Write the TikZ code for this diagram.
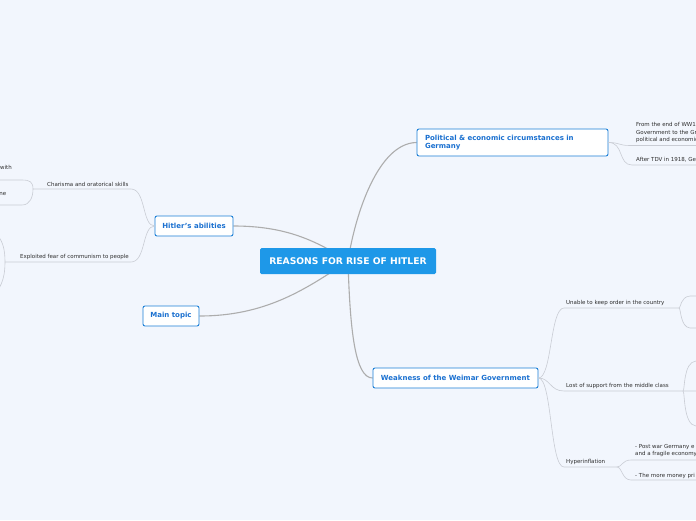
\documentclass[tikz,border=0pt]{standalone}
\usepackage{fontspec}
\setmainfont{DejaVu Sans}
\usepackage{xcolor}
\usepackage{tikz}

\definecolor{paper}{HTML}{F2F6FD}
\definecolor{mainblue}{HTML}{1E98E8}
\definecolor{topicblue}{HTML}{1C7FD6}
\definecolor{topictext}{HTML}{1A70D0}
\definecolor{linkgray}{HTML}{ADADAD}
\definecolor{twiggray}{HTML}{C9CCD4}
\definecolor{subtext}{HTML}{2E2E2E}

\pgfdeclarelayer{back}
\pgfsetlayers{back,main}

\begin{document}
\begin{tikzpicture}[
    x=1pt,y=-1pt,
    central/.style={rectangle,fill=mainblue,text=white,rounded corners=1.5pt,minimum width=176pt,minimum height=26pt,font=\fontsize{9.2}{11}\selectfont\bfseries},
    topic/.style={rectangle,draw=topicblue,fill=white,line width=0.9pt,rounded corners=2pt,text=topictext,minimum height=20pt,align=left,font=\fontsize{7}{8.5}\selectfont\bfseries},
    subtopic/.style={anchor=base west,inner sep=0pt,text=subtext,align=left,font=\fontsize{5.5}{7.2}\selectfont},
    link/.style={draw=linkgray,line width=1.1pt},
    twig/.style={draw=twiggray,line width=0.6pt}
]
\begin{pgfonlayer}{back}
\fill[paper] (0,0) rectangle (696,520);
\end{pgfonlayer}
\useasboundingbox (0,0) rectangle (696,520);
\clip (0,0) rectangle (696,520);

\node[central] (root) at (348,261) {REASONS FOR RISE OF HITLER};
\node[topic,text width=175pt,inner xsep=8pt,minimum height=27pt] (circum) at (512.5,142.5) {Political \& economic circumstances in\\Germany};
\node[topic,minimum width=78pt] (abilities) at (194,226) {Hitler's abilities};
\node[topic,minimum width=56pt] (maintopic) at (171,316) {Main topic};
\node[topic,minimum width=165pt] (weimar) at (455.5,378) {Weakness of the Weimar Government};

% circumstances
\node[subtopic,anchor=north west] (ww1) at (636,122.5) {From the end of WW1\\Government to the Gr\\political and economic};
\node[subtopic] (tdv) at (636,161.5) {After TDV in 1918, Ge};
% abilities
\node[subtopic] (charisma) at (47,186) {Charisma and oratorical skills};
\node[subtopic,anchor=base east] (withtext) at (12,169) {with};
\node[subtopic,anchor=base east] (netext) at (6.5,195) {ne};
\node[subtopic] (fear) at (20,258) {Exploited fear of communism to people};
% weimar
\node[subtopic] (order) at (566,304) {Unable to keep order in the country};
\node[subtopic] (middle) at (566,387) {Lost of support from the middle class};
\node[subtopic] (hyper) at (566,463) {Hyperinflation};
\node[subtopic,anchor=north west] (postwar) at (635,444.5) {- Post war Germany e\\and a fragile economy};
\node[subtopic] (money) at (635,477) {- The more money pri};

\begin{pgfonlayer}{back}
\draw[link] (root.center) .. controls (355,215) and (378,143) .. (circum.west);
\draw[link] (root.center) .. controls (350,330) and (355,378) .. (weimar.west);
\draw[link] (abilities.east) .. controls (285,226) and (315,240) .. (root.center);
\draw[link] (maintopic.east) .. controls (265,316) and (305,290) .. (root.center);
\end{pgfonlayer}

\draw[twig] (circum.east) .. controls (620,142.5) and (618,145.5) .. (630,145.5) -- (696,145.5);
\draw[twig] (circum.east) .. controls (624,142.5) and (618,165) .. (632,165) -- (696,165);

\draw[twig] (abilities.west) .. controls (142,226) and (146,189) .. (131,189) -- (33,189);
\draw[twig] (abilities.west) .. controls (142,226) and (146,262) .. (131,262) -- (5,262);
\draw[twig] (33,189) .. controls (33,182) and (30,180) .. (22,180) -- (0,180);
\draw[twig] (33,189) .. controls (33,197) and (30,205) .. (22,205) -- (0,205);
\draw[twig] (5,262) .. controls (5,250) and (3,242) .. (-2,236);
\draw[twig] (5,262) .. controls (5,274) and (3,282) .. (-2,290);

\draw[twig] (weimar.east) .. controls (552,378) and (550,308) .. (564,308) -- (679,308);
\draw[twig] (weimar.east) .. controls (550,378) and (550,391) .. (564,391) -- (696,391);
\draw[twig] (weimar.east) .. controls (552,378) and (550,467) .. (564,467) -- (617,467);
\draw[twig] (679,308) .. controls (681,308) and (680,297) .. (690,296) -- (696,296);
\draw[twig] (679,308) .. controls (681,308) and (680,327) .. (690,328) -- (696,328);
\draw[twig] (683,391) .. controls (685,391) and (683,362) .. (696,361);
\draw[twig] (683,391) .. controls (685,391) and (683,425) .. (696,426);
\draw[twig] (617,467) .. controls (622,467) and (622,460) .. (631,460) -- (696,460);
\draw[twig] (617,467) .. controls (622,467) and (622,480) .. (631,480) -- (696,480);
\end{tikzpicture}
\end{document}
